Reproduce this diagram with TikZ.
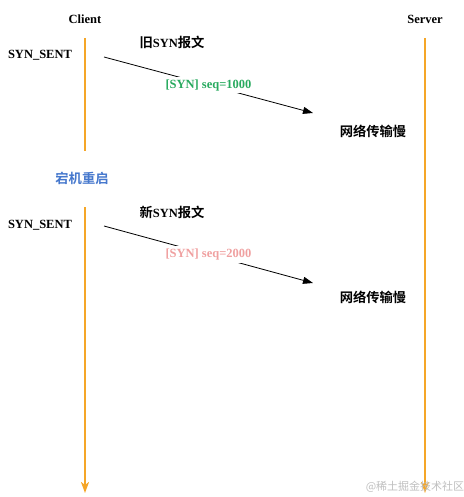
\documentclass[tikz,border=0pt]{standalone}
\usepackage{fontspec}
\setmainfont{Liberation Serif}
\newfontfamily\cjk{Noto Sans CJK SC}[BoldFont={* Bold}]
\usetikzlibrary{arrows.meta}
\definecolor{lifeor}{RGB}{245,166,40}
\definecolor{lblgreen}{RGB}{40,170,95}
\definecolor{lblpink}{RGB}{240,160,160}
\definecolor{lblblue}{RGB}{70,120,205}
\newcommand{\zh}[1]{{\cjk\fontsize{13.3}{14}\selectfont #1}}
\begin{document}
\begin{tikzpicture}[x=1pt,y=-1pt,
  title/.style={font=\fontsize{12.5}{14}\selectfont\bfseries, inner sep=0pt},
  state/.style={font=\fontsize{12.5}{14}\selectfont\bfseries, inner sep=0pt},
  cjklbl/.style={font=\fontsize{12.5}{14}\selectfont\bfseries, inner sep=0pt},
  msglbl/.style={font=\fontsize{12.5}{14}\selectfont\bfseries, fill=white, inner sep=2.5pt},
  lifeline/.style={draw=lifeor, line width=2pt},
  lifearrow/.style={lifeline, -{Stealth[length=11pt,width=8pt,inset=3pt]}},
  msg/.style={draw=black, line width=0.8pt, -{Triangle[length=10pt,width=7pt]}}]
\useasboundingbox (0,0) rectangle (463,497);
% titles
\node[title] (client) at (85,19) {Client};
\node[title] (server) at (425,19) {Server};
% lifelines
\coordinate (c1a) at (85,38);
\coordinate (c1b) at (85,151);
\coordinate (c2a) at (85,207);
\coordinate (c2b) at (85,493);
\coordinate (s1a) at (425,38);
\coordinate (s1b) at (425,493);
\draw[lifeline] (c1a) -- (c1b);
\draw[lifearrow] (c2a) -- (c2b);
\draw[lifearrow] (s1a) -- (s1b);
% first segment
\node[state] (ss1) at (40,55) {SYN\_SENT};
\node[cjklbl] (old) at (172,42) {\zh{旧}SYN\zh{报文}};
\coordinate (m1a) at (104,57);
\coordinate (m1b) at (313,113);
\draw[msg] (m1a) -- node[msglbl, text=lblgreen] (lbl1) {[SYN] seq=1000} (m1b);
\node[cjklbl] (slow1) at (373,131) {\zh{网络传输慢}};
% restart
\node[cjklbl, text=lblblue] (restart) at (82,178) {\zh{宕机重启}};
% second segment
\node[state] (ss2) at (40,225) {SYN\_SENT};
\node[cjklbl] (new) at (172,212) {\zh{新}SYN\zh{报文}};
\coordinate (m2a) at (104,226);
\coordinate (m2b) at (313,283);
\draw[msg] (m2a) -- node[msglbl, text=lblpink] (lbl2) {[SYN] seq=2000} (m2b);
\node[cjklbl] (slow2) at (373,297) {\zh{网络传输慢}};
% watermark
\node[font=\fontsize{11}{12}\selectfont\cjk, text=black!25, inner sep=0pt] (wm) at (415,487) {@稀土掘金技术社区};
\end{tikzpicture}
\end{document}
